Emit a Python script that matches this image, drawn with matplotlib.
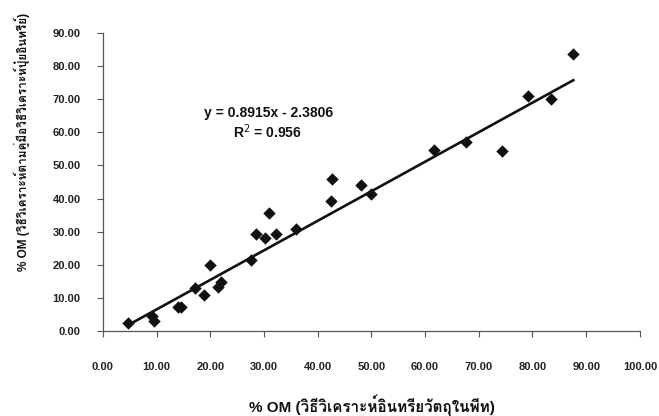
import matplotlib
matplotlib.use("Agg")
import matplotlib.pyplot as plt
from matplotlib import font_manager
from matplotlib.ft2font import FT2Font
import numpy as np

# ---- data ----
x_vals = [4.6, 9.1, 9.5, 14.0, 14.5, 17.1, 18.8, 19.9, 21.5, 22.1, 27.5, 28.5,
          30.2, 31.0, 32.3, 35.9, 42.4, 42.6, 48.0, 50.0, 61.7, 67.6, 74.4,
          79.1, 83.4, 87.6]
y_vals = [2.6, 4.6, 3.2, 7.4, 7.2, 12.9, 10.9, 20.0, 13.3, 14.8, 21.4, 29.3,
          28.0, 35.6, 29.3, 30.7, 39.4, 45.9, 44.1, 41.3, 54.6, 57.2, 54.5,
          70.9, 69.9, 83.6]
slope = 0.8915
intercept = -2.3806
r2 = 0.956
x_ticks = [0, 10, 20, 30, 40, 50, 60, 70, 80, 90, 100]
y_ticks = [0, 10, 20, 30, 40, 50, 60, 70, 80, 90]
x_label = "% OM (วิธีวิเคราะห์อินทรียวัตถุในพีท)"
y_label = "% OM (วิธีวิเคราะห์ตามคู่มือวิธีวิเคราะห์ปุ๋ยอินทรีย์)"

# find a font with Thai glyphs, if any
thai_family = None
for f in font_manager.fontManager.ttflist:
    try:
        cm = FT2Font(f.fname).get_charmap()
        if 0x0E27 in cm and 0x0E34 in cm:
            thai_family = f.name
            break
    except Exception:
        pass
label_fams = (["Liberation Sans", thai_family] if thai_family else ["Liberation Sans", "DejaVu Sans"])

plt.rcParams['font.family'] = ['Liberation Sans', 'DejaVu Sans']

fig = plt.figure(figsize=(6.59, 4.16), dpi=100)
ax = fig.add_axes([0.156, 0.204, 0.815, 0.717])

ax.scatter(x_vals, y_vals, marker='D', s=40, color='#111111', zorder=3, linewidths=0)
xl = np.array([min(x_vals), max(x_vals)])
ax.plot(xl, slope * xl + intercept, color='#111111', lw=1.9, zorder=2)

ax.set_xlim(0, 100)
ax.set_ylim(0, 90)
ax.set_xticks(x_ticks)
ax.set_yticks(y_ticks)
ax.set_xticklabels([f"{v:.2f}" for v in x_ticks], fontsize=8, fontweight='bold', color='#222222')
ax.set_yticklabels([f"{v:.2f}" for v in y_ticks], fontsize=8, fontweight='bold', color='#222222')
ax.tick_params(axis='x', direction='out', length=4, pad=18, color='#555555')
ax.tick_params(axis='y', direction='out', length=4, pad=12, color='#555555')
for s in ['top', 'right']:
    ax.spines[s].set_visible(False)
for s in ['left', 'bottom']:
    ax.spines[s].set_color('#555555')
    ax.spines[s].set_linewidth(0.9)

ax.text(30.9, 65.9, f"y = {slope}x - {abs(intercept)}", fontsize=10, fontweight='bold',
        ha='center', va='center', color='#111111')
ax.text(30.6, 60.1, f"R$^2$ = {r2}", fontsize=10, fontweight='bold',
        ha='center', va='center', color='#111111')

fig.text(372 / 659, 1 - 405 / 416, x_label, fontsize=11, fontweight='bold',
         ha='center', va='center', family=label_fams, color='#111111')
fig.text(22 / 659, 1 - 142 / 416, y_label, fontsize=8.5, fontweight='bold', rotation=90,
         ha='center', va='center', family=label_fams, color='#111111')

fig.savefig("out.png", dpi=100)
